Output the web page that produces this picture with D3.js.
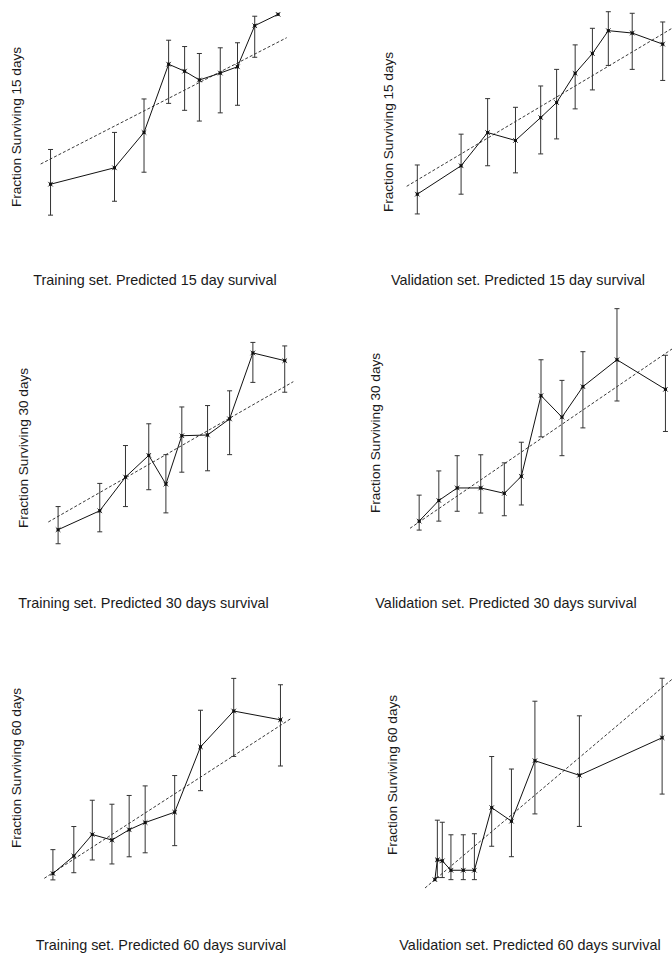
<!DOCTYPE html>
<html>
<head>
<meta charset="utf-8">
<script src="https://cdn.jsdelivr.net/npm/d3@7"></script>
<style>
  body { margin: 0; background: #fff; }
  svg { display: block; }
  text { font-family: "Liberation Sans", Arial, sans-serif; fill: #1a1a1a; }
</style>
</head>
<body>
<div id="chart"></div>
<script>
// predicted survival (%) per bin, observed survival (%) and its error interval
// dashed line is the identity line predicted == observed

// Training, 15 days
var tr15Pred = [75.8, 81.0, 83.4, 85.4, 86.7, 87.9, 89.6, 91.0, 92.4, 94.3];
var tr15Obs  = [71.8, 74.4, 80.0, 90.8, 89.7, 88.3, 89.4, 90.4, 96.9, 98.7];
var tr15Lo   = [66.9, 69.1, 73.7, 84.6, 83.5, 81.8, 83.1, 84.3, 91.9, null];
var tr15Hi   = [77.3, 80.0, 85.3, 94.6, 93.6, 92.5, 93.4, 94.2, 98.4, null];

// Validation, 15 days
var va15Pred = [75.8, 79.1, 81.1, 83.2, 85.1, 86.3, 87.7, 89.0, 90.2, 92.0, 94.3];
var va15Obs  = [74.0, 77.6, 81.8, 80.8, 83.7, 85.6, 89.3, 91.8, 94.7, 94.4, 93.0];
var va15Lo   = [71.5, 74.0, 77.6, 76.7, 79.1, 81.0, 84.8, 87.2, 90.3, 89.8, 88.4];
var va15Hi   = [77.7, 81.6, 86.1, 85.0, 87.7, 89.8, 92.9, 95.0, 97.1, 96.9, 95.8];

// Training, 30 days
var tr30Pred = [65.8, 69.2, 71.3, 73.2, 74.6, 75.9, 78.0, 79.8, 81.7, 84.3];
var tr30Obs  = [63.9, 66.6, 71.4, 74.5, 70.4, 77.3, 77.4, 79.7, 89.1, 88.0];
var tr30Lo   = [61.9, 63.6, 67.2, 69.6, 66.3, 72.1, 72.3, 74.6, 84.9, 83.5];
var tr30Hi   = [67.2, 70.5, 75.9, 79.0, 74.6, 81.4, 81.6, 83.7, 90.6, 90.1];

// Validation, 30 days
var va30Pred = [65.7, 67.2, 68.6, 70.4, 72.2, 73.5, 75.0, 76.6, 78.2, 80.8, 84.5];
var va30Obs  = [65.8, 68.1, 69.5, 69.5, 68.9, 70.8, 79.8, 77.4, 80.8, 83.8, 80.5];
var va30Lo   = [64.8, 65.8, 66.9, 66.7, 66.4, 67.6, 75.2, 73.1, 76.2, 79.2, 75.8];
var va30Hi   = [68.7, 71.4, 73.1, 73.2, 72.3, 74.6, 83.8, 81.5, 84.7, 89.5, 84.3];

// Training, 60 days
var tr60Pred = [50.7, 52.4, 53.9, 55.5, 56.9, 58.2, 60.6, 62.7, 65.4, 69.2];
var tr60Obs  = [50.6, 52.8, 55.5, 54.8, 56.1, 57.0, 58.3, 66.5, 71.0, 69.9];
var tr60Lo   = [49.8, 50.7, 52.3, 51.8, 52.7, 53.2, 54.1, 61.0, 65.3, 64.1];
var tr60Hi   = [53.6, 56.5, 59.8, 59.3, 60.4, 61.6, 62.9, 71.1, 75.1, 74.3];

// Validation, 60 days
var va60Pred = [50.8, 51.0, 51.4, 52.1, 53.1, 54.0, 55.4, 57.0, 58.9, 62.5, 69.2];
var va60Obs  = [50.8, 52.7, 52.6, 51.7, 51.7, 51.7, 57.7, 56.4, 62.2, 60.8, 64.4];
var va60Lo   = [null, 51.0, 51.0, 50.8, 50.8, 50.8, 54.0, 53.0, 57.1, 55.9, 59.0];
var va60Hi   = [null, 56.5, 56.3, 55.1, 55.1, 55.2, 62.6, 61.4, 67.9, 66.5, 70.1];

var titles = [
  "Training set. Predicted 15 day survival",
  "Validation set. Predicted 15 day survival",
  "Training set. Predicted 30 days survival",
  "Validation set. Predicted 30 days survival",
  "Training set. Predicted 60 days survival",
  "Validation set. Predicted 60 days survival"
];
var yLabels = [
  "Fraction Surviving 15 days", "Fraction Surviving 15 days",
  "Fraction Surviving 30 days", "Fraction Surviving 30 days",
  "Fraction Surviving 60 days", "Fraction Surviving 60 days"
];
var domains = [[75, 95], [75, 95], [65, 85], [65, 85], [50, 70], [50, 70]];

// layout of each panel (pixel ranges of the identity line, label positions)
var panels = [
  {pred: tr15Pred, obs: tr15Obs, lo: tr15Lo, hi: tr15Hi,
   xr: [40.7, 286.7], yr: [164, 37.7], lab: [21, 127], tit: [155, 285]},
  {pred: va15Pred, obs: va15Obs, lo: va15Lo, hi: va15Hi,
   xr: [406.7, 672], yr: [186.3, 28.3], lab: [392.5, 132], tit: [518, 285]},
  {pred: tr30Pred, obs: tr30Obs, lo: tr30Lo, hi: tr30Hi,
   xr: [48.3, 293.3], yr: [522, 381.7], lab: [28, 448], tit: [143.5, 608]},
  {pred: va30Pred, obs: va30Obs, lo: va30Lo, hi: va30Hi,
   xr: [410, 672], yr: [528.3, 349], lab: [380, 433], tit: [506, 608]},
  {pred: tr60Pred, obs: tr60Obs, lo: tr60Lo, hi: tr60Hi,
   xr: [44.3, 290.3], yr: [878.3, 719], lab: [21, 768], tit: [161, 950]},
  {pred: va60Pred, obs: va60Obs, lo: va60Lo, hi: va60Hi,
   xr: [425, 672], yr: [888, 679.3], lab: [396.5, 775], tit: [530, 950]}
];

var svg = d3.select("#chart")
  .append("svg")
    .attr("width", 672)
    .attr("height", 955);

panels.forEach(function(p, i) {
  var x = d3.scaleLinear().domain(domains[i]).range(p.xr);
  var y = d3.scaleLinear().domain(domains[i]).range(p.yr);
  var g = svg.append("g");

  var pts = p.pred.map(function(v, k) {
    return {x: v, y: p.obs[k], lo: p.lo[k], hi: p.hi[k]};
  });

  // identity line
  g.append("line")
    .attr("x1", x(domains[i][0])).attr("y1", y(domains[i][0]))
    .attr("x2", x(domains[i][1])).attr("y2", y(domains[i][1]))
    .attr("stroke", "#222")
    .attr("stroke-width", 0.9)
    .attr("stroke-dasharray", "3,2");

  // error bars
  var eb = g.selectAll(".eb")
    .data(pts.filter(function(d) { return d.lo != null; }))
    .enter().append("g");
  eb.append("line")
    .attr("x1", function(d) { return x(d.x); })
    .attr("x2", function(d) { return x(d.x); })
    .attr("y1", function(d) { return y(d.lo); })
    .attr("y2", function(d) { return y(d.hi); })
    .attr("stroke", "#333").attr("stroke-width", 1);
  ["lo", "hi"].forEach(function(k) {
    eb.append("line")
      .attr("x1", function(d) { return x(d.x) - 2.5; })
      .attr("x2", function(d) { return x(d.x) + 2.5; })
      .attr("y1", function(d) { return y(d[k]); })
      .attr("y2", function(d) { return y(d[k]); })
      .attr("stroke", "#333").attr("stroke-width", 1);
  });

  // observed line
  g.append("path")
    .datum(pts)
    .attr("fill", "none")
    .attr("stroke", "#111")
    .attr("stroke-width", 1)
    .attr("d", d3.line().x(function(d) { return x(d.x); }).y(function(d) { return y(d.y); }));

  // markers
  g.selectAll(".m")
    .data(pts)
    .enter().append("path")
      .attr("transform", function(d) { return "translate(" + x(d.x) + "," + y(d.y) + ")"; })
      .attr("d", d3.symbol().type(d3.symbolSquare).size(9))
      .attr("fill", "#111");
  g.selectAll(".mx")
    .data(pts)
    .enter().append("path")
      .attr("transform", function(d) { return "translate(" + x(d.x) + "," + y(d.y) + ")"; })
      .attr("d", d3.symbol().type(d3.symbolX).size(16))
      .attr("fill", "none")
      .attr("stroke", "#111")
      .attr("stroke-width", 0.8);

  // labels
  g.append("text")
    .attr("transform", "translate(" + p.lab[0] + "," + p.lab[1] + ") rotate(-90)")
    .attr("text-anchor", "middle")
    .style("font-size", "13.6px")
    .text(yLabels[i]);
  g.append("text")
    .attr("x", p.tit[0]).attr("y", p.tit[1])
    .attr("text-anchor", "middle")
    .style("font-size", "14.4px")
    .text(titles[i]);
});
</script>
</body>
</html>
